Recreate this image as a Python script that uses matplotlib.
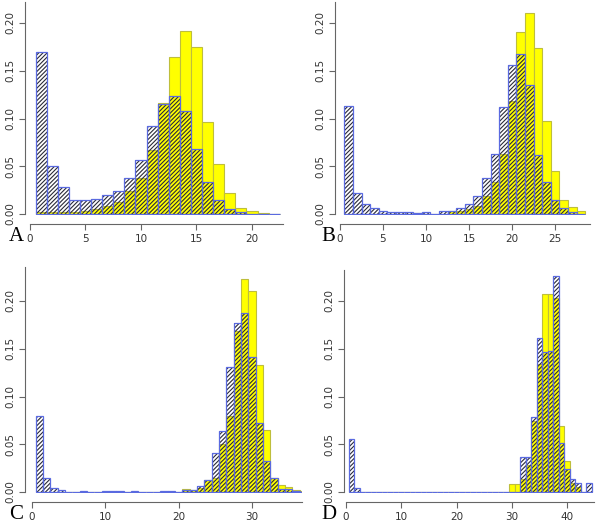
import numpy as np
import matplotlib.pyplot as plt

# bin heights (density), bins centred on 1, 2, 3, ...
a_yellow = [0.0025, 0.0025, 0.0025, 0.0025, 0.0035, 0.0056, 0.0087, 0.013, 0.0237, 0.038, 0.067,
            0.116, 0.164, 0.192, 0.175, 0.0965, 0.052, 0.022, 0.0066, 0.0028, 0.0007, 0.0]
a_hatch = [0.170, 0.0505, 0.0286, 0.015, 0.015, 0.016, 0.020, 0.024, 0.038, 0.057, 0.092,
           0.115, 0.124, 0.108, 0.068, 0.033, 0.015, 0.005, 0.002, 0.0005, 0.0003, 0.0002]

b_yellow = [0.0003, 0.0, 0.0, 0.0, 0.0, 0.0, 0.0, 0.0, 0.0014, 0.0003, 0.0, 0.0003, 0.003, 0.003,
            0.005, 0.0087, 0.019, 0.034, 0.063, 0.118, 0.191, 0.2105, 0.174, 0.097, 0.045, 0.015,
            0.0077, 0.0028]
b_hatch = [0.1136, 0.0216, 0.0105, 0.0063, 0.0035, 0.0024, 0.0017, 0.0017, 0.001, 0.0024, 0.0003,
           0.003, 0.003, 0.0063, 0.0105, 0.019, 0.038, 0.063, 0.112, 0.156, 0.168, 0.135, 0.062,
           0.033, 0.015, 0.0066, 0.0017, 0.0]

c_yellow = [0.0, 0.0, 0.0, 0.0, 0.0, 0.0, 0.0005, 0.0, 0.0, 0.0, 0.0, 0.0, 0.0, 0.0, 0.0, 0.0,
            0.0, 0.0005, 0.0, 0.0, 0.0035, 0.0024, 0.004, 0.013, 0.0143, 0.0506, 0.080, 0.1686,
            0.223, 0.210, 0.133, 0.065, 0.015, 0.0077, 0.0056, 0.002, 0.0007, 0.0017]
c_hatch = [0.080, 0.015, 0.0042, 0.0024, 0.0003, 0.0003, 0.0007, 0.0003, 0.0003, 0.0007, 0.0007,
           0.0007, 0.0003, 0.0007, 0.0003, 0.0003, 0.0003, 0.0012, 0.0007, 0.0003, 0.0017, 0.0024,
           0.0066, 0.013, 0.041, 0.064, 0.131, 0.177, 0.187, 0.1417, 0.0726, 0.0328, 0.0143,
           0.003, 0.0028, 0.0007, 0.0003, 0.0]

d_yellow = [0.0] * 29 + [0.0087, 0.0087, 0.014, 0.028, 0.074, 0.134, 0.2077, 0.2077, 0.2028,
                         0.069, 0.032, 0.0094, 0.0049, 0.0, 0.0]
d_hatch = [0.055, 0.0042] + [0.0] * 29 + [0.037, 0.037, 0.0785, 0.1616, 0.1466, 0.1476, 0.2258,
                                          0.0513, 0.0244, 0.014, 0.009, 0.0, 0.009]

W, H = 600, 525
plt.rcParams['hatch.linewidth'] = 0.8
fig = plt.figure(figsize=(W / 100, H / 100), dpi=100)

YSCALE = 955.0   # pixels per density unit
YLOW = -0.0015   # a little room so zero-height bars still show as a line


def panel(x0, base, xscale, xmax, ytop, yellow, hatch, xticks, letter, lx, ly, yaxis_x, xaxis_y):
    # pixel layout -> figure fractions
    left = x0 / W
    width = xmax * xscale / W
    bot_px = base - YLOW * YSCALE
    bottom = (H - bot_px) / H
    height = (ytop - YLOW) * YSCALE / H
    ax = fig.add_axes([left, bottom, width, height])
    ax.set_xlim(0, xmax)
    ax.set_ylim(YLOW, ytop)
    xy = np.arange(1, len(yellow) + 1)
    xh = np.arange(1, len(hatch) + 1)
    ax.bar(xy, yellow, width=1, color='#ffff00', edgecolor='#bebe3c', linewidth=0.8, zorder=1)
    ax.bar(xh, hatch, width=1, fill=False, hatch='////////',
           edgecolor='#2a2a38', linewidth=0, zorder=2)
    ax.bar(xh, hatch, width=1, fill=False, edgecolor='#5a6ae0', linewidth=0.9, zorder=3)
    for s in ['top', 'right']:
        ax.spines[s].set_visible(False)
    ax.spines['left'].set_position(('outward', (x0 - yaxis_x) * 0.72))
    ax.spines['bottom'].set_position(('outward', (xaxis_y - bot_px) * 0.72))
    ax.spines['left'].set_bounds(0, ytop)
    for s in ['left', 'bottom']:
        ax.spines[s].set_color('#666666')
        ax.spines[s].set_linewidth(0.8)
    ax.set_xticks(xticks)
    ax.set_yticks([0, 0.05, 0.10, 0.15, 0.20])
    ax.set_yticklabels(['0.00', '0.05', '0.10', '0.15', '0.20'], rotation=90, va='center')
    ax.tick_params(axis='both', length=4, width=0.8, color='#666666', labelsize=7.5,
                   labelcolor='#333333', pad=3)
    ax.patch.set_alpha(0)
    fig.text(lx / W, 1 - ly / H, letter, family='Liberation Serif', fontsize=15,
             ha='left', va='baseline')
    return ax


panel(30, 214, 11.1, 22.8, 0.222, a_yellow, a_hatch, [0, 5, 10, 15, 20], 'A', 9, 241, 25, 224)
panel(340, 214, 8.6, 29.1, 0.222, b_yellow, b_hatch, [0, 5, 10, 15, 20, 25], 'B', 321, 241, 335, 224)
panel(32, 492, 7.33, 36.8, 0.2356, c_yellow, c_hatch, [0, 10, 20, 30], 'C', 9, 519, 25, 502)
panel(346, 492, 5.525, 44.8, 0.232, d_yellow, d_hatch, [0, 10, 20, 30, 40], 'D', 321, 519, 344, 502)

fig.savefig('out.png', dpi=100)
